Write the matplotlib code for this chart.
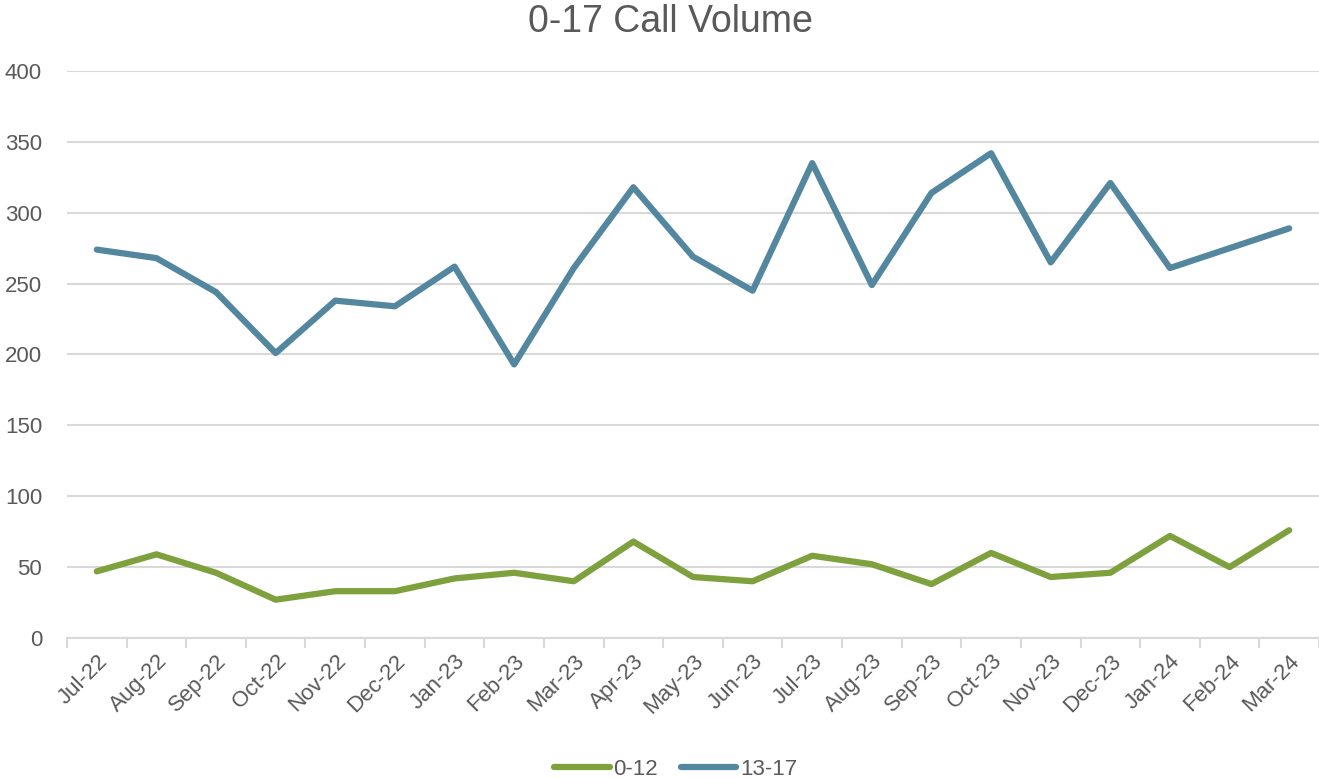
import matplotlib.pyplot as plt
import numpy as np

plt.rcParams['font.family'] = ['Liberation Sans', 'DejaVu Sans']

months = ["Jul-22", "Aug-22", "Sep-22", "Oct-22", "Nov-22", "Dec-22", "Jan-23",
          "Feb-23", "Mar-23", "Apr-23", "May-23", "Jun-23", "Jul-23", "Aug-23",
          "Sep-23", "Oct-23", "Nov-23", "Dec-23", "Jan-24", "Feb-24", "Mar-24"]
age_0_12 = [47, 59, 46, 27, 33, 33, 42, 46, 40, 68, 43, 40, 58, 52, 38, 60, 43, 46, 72, 50, 76]
age_13_17 = [274, 268, 244, 201, 238, 234, 262, 193, 261, 318, 269, 245, 335, 249, 314, 342, 265, 321, 261, 275, 289]

TEXT = "#595959"
GRID = "#d9d9d9"

fig = plt.figure(figsize=(13.19, 7.78), dpi=100)
ax = fig.add_axes([0.0508, 0.18, 0.9492, 0.7287])

x = np.arange(len(months))
ax.plot(x, age_0_12, color="#7ea13d", lw=4.5, solid_capstyle="round", label="0-12")
ax.plot(x, age_13_17, color="#53879f", lw=4.5, solid_capstyle="round", label="13-17")

ax.set_ylim(0, 400)
ax.set_yticks(range(0, 401, 50))
ax.set_xlim(-0.5, len(months) - 0.5)
ax.set_xticks(x)
ax.set_xticklabels(months, rotation=45, ha="right", rotation_mode="anchor")
ax.set_xticks(np.arange(-0.5, len(months), 1), minor=True)

ax.grid(axis="y", color=GRID, lw=1.5)
ax.set_axisbelow(True)
for s in ["top", "right", "left"]:
    ax.spines[s].set_visible(False)
ax.spines["bottom"].set_color(GRID)
ax.spines["bottom"].set_linewidth(1.5)

ax.tick_params(axis="x", which="major", length=0, pad=9, labelsize=16, labelcolor=TEXT)
ax.tick_params(axis="x", which="minor", length=7, width=1.5, color=GRID)
ax.tick_params(axis="y", length=0, pad=18, labelsize=16, labelcolor=TEXT)

fig.suptitle("0-17 Call Volume", fontsize=27, color=TEXT, x=0.508, y=0.995, va="top")

ax.legend(loc="lower center", bbox_to_anchor=(0.486, -0.285), ncol=2, frameon=False,
          fontsize=16, labelcolor=TEXT, handlelength=2.5, handletextpad=0.15,
          columnspacing=1.05)

fig.savefig("out.png", dpi=100)
